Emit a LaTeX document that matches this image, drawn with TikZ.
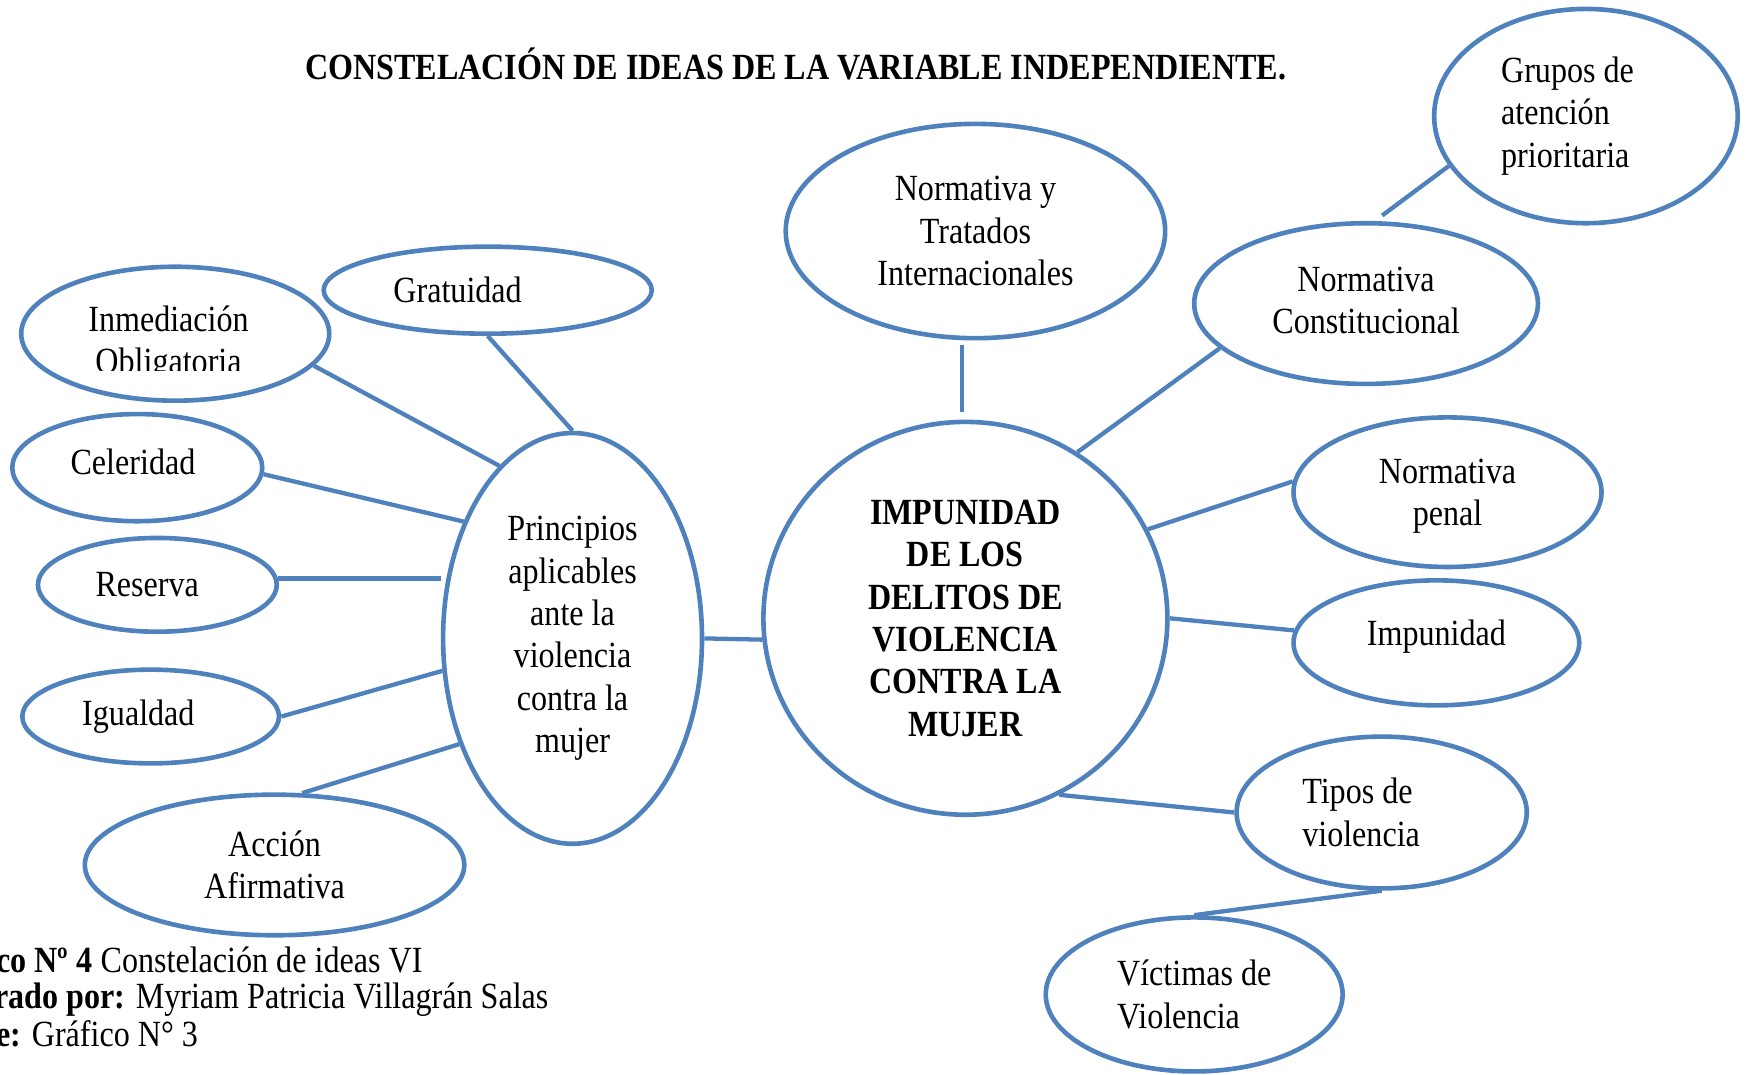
\documentclass[tikz,border=0pt]{standalone}
\usepackage{fontspec}
\setmainfont{Liberation Serif}[FakeStretch=0.87]
\usetikzlibrary{shapes.geometric}
\definecolor{bubblue}{RGB}{79,129,189}
\newcommand{\px}{0.363pt}
\newcommand{\txtfont}{\fontsize{12pt}{13.8pt}\selectfont}
\tikzset{
    bub/.style 2 args={ellipse, draw=bubblue, line width=1.5pt, inner sep=0pt,
        minimum width=#1*\px, minimum height=#2*\px, align=center, font=\txtfont},
    txt/.style={align=center, inner sep=0pt, font=\txtfont},
    link/.style={draw=bubblue, line width=1.4pt},
}

\begin{document}
\begin{tikzpicture}[x=\px,y=-\px]
    \useasboundingbox (0,0) rectangle (1568,963);

    \node[anchor=base, font=\bfseries\txtfont] (title) at (713,71)
        {CONSTELACIÓN DE IDEAS DE LA VARIABLE INDEPENDIENTE.};

    % centre and its branches
    \node[bub={362}{352}, font=\bfseries\txtfont] (imp) at (865,554)
        {IMPUNIDAD\\DE LOS\\DELITOS DE\\VIOLENCIA\\CONTRA LA\\MUJER};
    \node[bub={340}{192}] (trat) at (874,207) {Normativa y\\Tratados\\Internacionales};
    \node[bub={308}{144}, label={[txt,yshift=1pt]center:{Normativa\\Constitucional}}] (cons) at (1224,272) {};
    \node[bub={272}{192}, label={[txt,align=left,xshift=-6pt]center:{Grupos de\\atención\\prioritaria}}] (grp) at (1421,104) {};
    \node[bub={276}{134}, label={[txt,yshift=-1.4pt]center:{Normativa\\penal}}] (pen) at (1297,441) {};
    \node[bub={256}{112}, label={[txt,yshift=2pt]center:Impunidad}] (impu) at (1287,576) {};
    \node[bub={260}{136}, label={[txt,align=left,xshift=-6.7pt]center:{Tipos de\\violencia}}] (tip) at (1238,728) {};
    \node[bub={266}{138}, align=left] (vic) at (1070,891) {Víctimas de\\Violencia};

    % principios
    \node[bub={232}{368}] (pri) at (513,572) {Principios\\aplicables\\ante la\\violencia\\contra la\\mujer};
    \node[bub={294}{78}, label={[txt,xshift=-9.8pt]center:Gratuidad}] (gra) at (437,260) {};
    \node[bub={276}{120}] (inm) at (157,299) {};
    \begin{scope}
        \clip (0,0) rectangle (400,332); % text box cut off
        \node[txt] (inm-t) at (151,308) {Inmediación\\Obligatoria};
    \end{scope}
    \node[bub={224}{96}, label={[txt,xshift=-1.4pt,yshift=1.8pt]center:Celeridad}] (cel) at (123,419) {};
    \node[bub={214}{84}, label={[txt,xshift=-3.3pt]center:Reserva}] (res) at (141,524) {};
    \node[bub={230}{84}, label={[txt,xshift=-4pt]center:Igualdad}] (igu) at (135,642) {};
    \node[bub={340}{126}] (acc) at (246,775) {Acción\\Afirmativa};

    \draw[link, shorten <=2.5pt, shorten >=1.5pt] (imp.91) -- (imp.91 |- trat.south);
    \draw[link] (imp.56) -- (cons.197);
    \draw[link, shorten >=3pt] (grp.200) -- (cons.84);
    \draw[link] (imp.26) -- (pen.176);
    \draw[link] (imp.east) -- (impu.175);
    \draw[link] (imp.-62) -- (tip.west);
    \draw[link] (tip.south) -- (vic.north);

    \draw[link] (pri.east) -- (imp.186);
    \draw[link] (gra.south) -- (pri.north);
    \draw[link] (inm.-13) -- (pri.113);
    \draw[link] (cel.-3) -- (pri.133);
    \draw[link] (res.3) -- (res.3 -| pri.west);
    \draw[link] (igu.east) -- (pri.194);
    \draw[link] (acc.69) -- (pri.223);

    % caption, cut at the left margin
    \node[anchor=base west, font=\txtfont] (cap1) at (-80,871) {\textbf{Gráfico Nº 4} Constelación de ideas VI};
    \node[anchor=base west, font=\txtfont] (cap2) at (-87,904) {\textbf{Elaborado por:} Myriam Patricia Villagrán Salas};
    \node[anchor=base west, font=\txtfont] (cap3) at (-85,938) {\textbf{Fuente:} Gráfico N° 3};
\end{tikzpicture}
\end{document}
